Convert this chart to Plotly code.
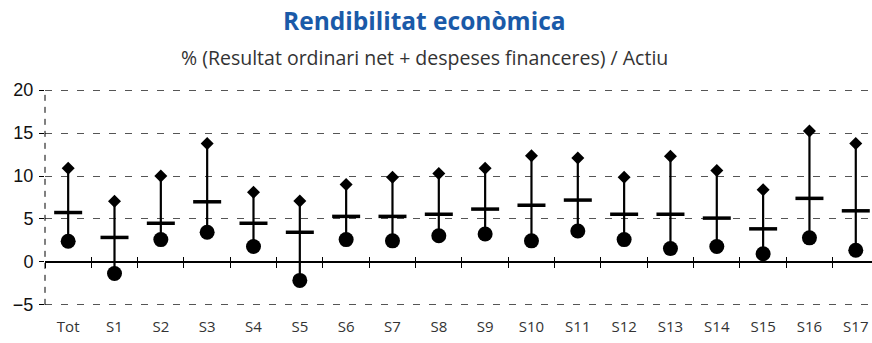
import plotly.graph_objects as go

# Sector ranges of economic return (%): upper value, median, lower value
categories = ["Tot", "S1", "S2", "S3", "S4", "S5", "S6", "S7", "S8", "S9",
              "S10", "S11", "S12", "S13", "S14", "S15", "S16", "S17"]
upper = [10.9, 7.05, 10.0, 13.8, 8.1, 7.1, 9.0, 9.85, 10.3, 10.9,
         12.35, 12.1, 9.85, 12.3, 10.65, 8.4, 15.25, 13.8]
median = [5.75, 2.85, 4.5, 7.0, 4.5, 3.45, 5.3, 5.3, 5.55, 6.15,
          6.6, 7.2, 5.55, 5.55, 5.1, 3.85, 7.4, 5.95]
lower = [2.4, -1.35, 2.6, 3.45, 1.8, -2.15, 2.6, 2.45, 3.05, 3.25,
         2.45, 3.6, 2.6, 1.55, 1.8, 0.95, 2.8, 1.35]
y_ticks = [-5, 0, 5, 10, 15, 20]

W, H = 872, 343
M_L, M_R, M_T, M_B = 45, 0, 88, 36
X_RANGE = [-0.5, 17.35]
Y_RANGE = [-5.25, 20.25]   # a little headroom so the end gridlines show

# vertical range segments (lower -> upper), one per category
seg_x, seg_y = [], []
for c, lo, hi in zip(categories, lower, upper):
    seg_x += [c, c, None]
    seg_y += [lo, hi, None]

fig = go.Figure()
fig.add_trace(go.Scatter(x=seg_x, y=seg_y, mode="lines",
                         line=dict(color="black", width=2.2),
                         hoverinfo="skip", showlegend=False))
fig.add_trace(go.Scatter(x=categories, y=upper, mode="markers", name="Màxim",
                         marker=dict(symbol="diamond", size=10, color="black"),
                         showlegend=False))
fig.add_trace(go.Scatter(x=categories, y=median, mode="markers", name="Mediana",
                         marker=dict(symbol="line-ew", size=20,
                                     line=dict(color="black", width=3.5)),
                         showlegend=False))
fig.add_trace(go.Scatter(x=categories, y=lower, mode="markers", name="Mínim",
                         marker=dict(symbol="circle", size=15, color="black"),
                         showlegend=False))

# helper traces so the zero-line axes (with boundary ticks) are drawn
for ax in ("x2", "x3"):
    fig.add_trace(go.Scatter(x=categories, y=[None] * len(categories),
                             xaxis=ax, mode="markers", hoverinfo="skip",
                             showlegend=False))

zero_pos = (0 - Y_RANGE[0]) / (Y_RANGE[1] - Y_RANGE[0])
cat_axis = dict(type="category", categoryorder="array", categoryarray=categories,
                range=X_RANGE)

fig.update_layout(
    width=W, height=H,
    margin=dict(l=M_L, r=M_R, t=M_T, b=M_B, pad=0),
    paper_bgcolor="white", plot_bgcolor="white",
    font=dict(family="Open Sans, sans-serif", color="#333"),
    xaxis=dict(**cat_axis, showgrid=False, zeroline=False, showline=False,
               ticks="", tickfont=dict(size=15, color="#333"),
               ticklabelstandoff=9),
    xaxis2=dict(**cat_axis, overlaying="x", anchor="free", position=zero_pos,
                side="bottom", showgrid=False, zeroline=False,
                showline=True, linecolor="black", linewidth=1.6,
                ticks="outside", tickson="boundaries", ticklen=5,
                tickwidth=1.3, tickcolor="black", showticklabels=False),
    xaxis3=dict(**cat_axis, overlaying="x", anchor="free", position=zero_pos,
                side="bottom", showgrid=False, zeroline=False,
                showline=False,
                ticks="inside", tickson="boundaries", ticklen=5,
                tickwidth=1.3, tickcolor="black", showticklabels=False),
    yaxis=dict(range=Y_RANGE, tickmode="array", tickvals=y_ticks,
               showgrid=True, gridcolor="#555", gridwidth=1,
               griddash="7px,9px", zeroline=False, showline=False,
               ticks="outside", ticklen=5, tickcolor="black", tickwidth=1,
               tickfont=dict(family="Liberation Sans, Arial, sans-serif",
                             size=18, color="#111"),
               ticklabelstandoff=2),
    shapes=[dict(type="line", xref="paper", yref="y", x0=0, x1=0,
                 y0=y_ticks[0], y1=y_ticks[-1],
                 line=dict(color="black", width=1, dash="6px,6px"))],
    annotations=[
        dict(text="<b>Rendibilitat econòmica</b>", xref="paper", yref="paper",
             x=(424 - M_L) / (W - M_L - M_R), y=1, yshift=68,
             xanchor="center", yanchor="middle", showarrow=False,
             font=dict(size=24.5, color="#1a5aa8", family="Open Sans, sans-serif")),
        dict(text="% (Resultat ordinari net + despeses financeres) / Actiu",
             xref="paper", yref="paper",
             x=(424 - M_L) / (W - M_L - M_R), y=1, yshift=31,
             xanchor="center", yanchor="middle", showarrow=False,
             font=dict(size=19.5, color="#333", family="Open Sans, sans-serif")),
    ],
)

fig.write_html("out.html")
